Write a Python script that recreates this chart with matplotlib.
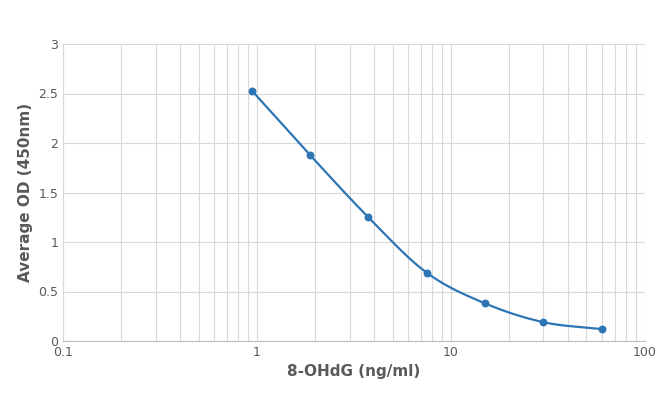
import numpy as np
import matplotlib
matplotlib.use("Agg")
import matplotlib.pyplot as plt

conc = [0.94, 1.875, 3.75, 7.5, 15, 30, 60]
od = [2.53, 1.88, 1.25, 0.69, 0.38, 0.19, 0.12]

def catmull(x, y, n=30):
    x = np.asarray(x, float); y = np.asarray(y, float)
    px = np.concatenate([[2*x[0]-x[1]], x, [2*x[-1]-x[-2]]])
    py = np.concatenate([[2*y[0]-y[1]], y, [2*y[-1]-y[-2]]])
    ox, oy = [], []
    t = np.linspace(0, 1, n)
    for i in range(1, len(px)-2):
        for arr, out in ((px, ox), (py, oy)):
            p0, p1, p2, p3 = arr[i-1:i+3]
            out.extend(0.5*((2*p1) + (-p0+p2)*t + (2*p0-5*p1+4*p2-p3)*t**2 + (-p0+3*p1-3*p2+p3)*t**3))
    return np.array(ox), np.array(oy)

fig = plt.figure(figsize=(6.71, 4.0), dpi=100)
ax = fig.add_axes([0.094, 0.1475, 0.867, 0.7425])
lx, ly = catmull(np.log10(conc), od)
ax.plot(10**lx, ly, color="#2E75B6", lw=1.6)
ax.scatter(conc, od, color="#2E75B6", s=22, zorder=3)
ax.set_xscale("log")
ax.set_xlim(0.1, 100)
ax.set_ylim(0, 3)
ax.set_yticks(np.arange(0, 3.01, 0.5))
ax.set_yticklabels(["0", "0.5", "1", "1.5", "2", "2.5", "3"])
ax.set_xticks([0.1, 1, 10, 100])
ax.set_xticklabels(["0.1", "1", "10", "100"])
ax.grid(True, which="both", axis="x", color="#D9D9D9", lw=0.8)
ax.grid(True, which="major", axis="y", color="#D9D9D9", lw=0.8)
ax.tick_params(which="both", length=0, labelsize=9, colors="#595959")
for s in ["top", "right"]:
    ax.spines[s].set_visible(False)
ax.spines["left"].set_color("#D9D9D9")
ax.spines["bottom"].set_color("#BFBFBF")
ax.set_xlabel("8-OHdG (ng/ml)", fontsize=11, fontweight="bold", color="#595959")
ax.set_ylabel("Average OD (450nm)", fontsize=11, fontweight="bold", color="#595959")
ax.set_axisbelow(True)
fig.savefig("out.png", dpi=100)
